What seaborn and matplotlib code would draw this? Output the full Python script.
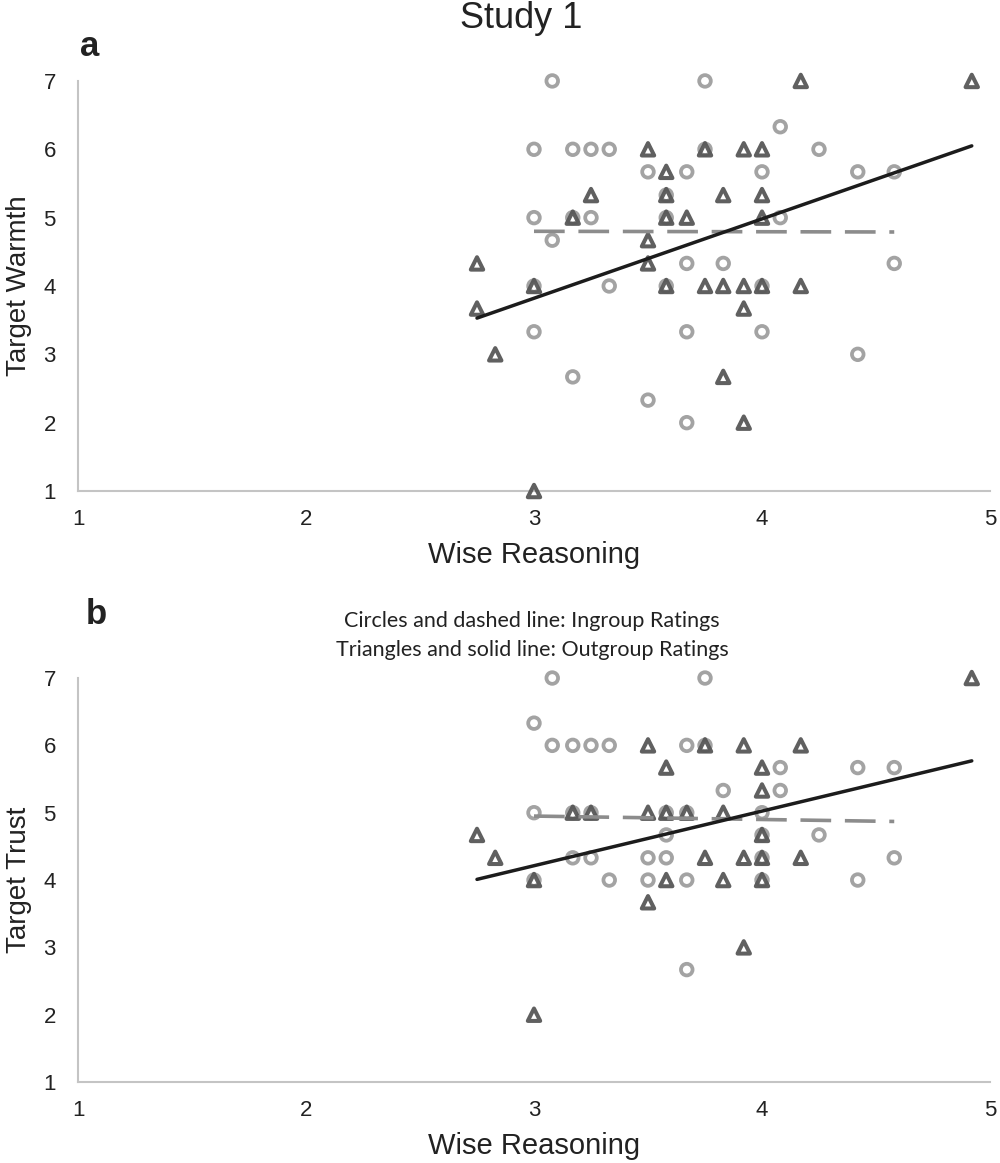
"""
Study 1: wise reasoning vs. target warmth / trust, ingroup vs. outgroup ratings.
"""
import numpy as np
import pandas as pd
import matplotlib
matplotlib.use("Agg")
import matplotlib.pyplot as plt
import seaborn as sns

sns.set_theme(style="white")
plt.rcParams['font.family'] = ['Liberation Sans', 'DejaVu Sans']

# ---- data ----
# panel a: target warmth
warm_in_x = [3.08, 3.75, 3.0, 3.17, 3.25, 3.33, 3.75, 4.25, 4.08, 3.5, 3.67, 4.0, 4.42, 4.58,
             3.58, 3.0, 3.17, 3.25, 3.58, 4.08, 3.08, 3.67, 3.83, 4.58, 3.0, 3.33, 3.58, 4.0,
             3.0, 3.67, 4.0, 4.42, 3.17, 3.5, 3.67]
warm_in_y = [7, 7, 6, 6, 6, 6, 6, 6, 6.33, 5.67, 5.67, 5.67, 5.67, 5.67,
             5.33, 5, 5, 5, 5, 5, 4.67, 4.33, 4.33, 4.33, 4, 4, 4, 4,
             3.33, 3.33, 3.33, 3, 2.67, 2.33, 2]
warm_out_x = [4.17, 4.92, 3.5, 3.75, 3.92, 4.0, 3.58, 3.25, 3.58, 3.83, 4.0, 3.17, 3.58, 3.67,
              4.0, 3.5, 2.75, 3.5, 3.0, 3.58, 3.75, 3.83, 3.92, 4.0, 4.17, 2.75, 3.92, 2.83,
              3.83, 3.92, 3.0]
warm_out_y = [7, 7, 6, 6, 6, 6, 5.67, 5.33, 5.33, 5.33, 5.33, 5, 5, 5,
              5, 4.67, 4.33, 4.33, 4, 4, 4, 4, 4, 4, 4, 3.67, 3.67, 3,
              2.67, 2, 1]

# panel b: target trust
trust_in_x = [3.08, 3.75, 3.0, 3.08, 3.17, 3.25, 3.33, 3.67, 3.75, 4.08, 4.42, 4.58, 3.83, 4.08,
              3.0, 3.17, 3.25, 3.58, 3.67, 4.0, 3.58, 4.0, 4.25, 3.17, 3.25, 3.5, 3.58, 4.0,
              4.58, 3.0, 3.33, 3.5, 3.67, 4.0, 4.42, 3.67]
trust_in_y = [7, 7, 6.33, 6, 6, 6, 6, 6, 6, 5.67, 5.67, 5.67, 5.33, 5.33,
              5, 5, 5, 5, 5, 5, 4.67, 4.67, 4.67, 4.33, 4.33, 4.33, 4.33, 4.33,
              4.33, 4, 4, 4, 4, 4, 4, 2.67]
trust_out_x = [4.92, 3.5, 3.75, 3.92, 4.17, 3.58, 4.0, 4.0, 3.17, 3.25, 3.5, 3.58, 3.67, 3.83,
               2.75, 4.0, 2.83, 3.75, 3.92, 4.0, 4.17, 3.0, 3.58, 3.83, 4.0, 3.5, 3.92, 3.0]
trust_out_y = [7, 6, 6, 6, 6, 5.67, 5.67, 5.33, 5, 5, 5, 5, 5, 5,
               4.67, 4.67, 4.33, 4.33, 4.33, 4.33, 4.33, 4, 4, 4, 4, 3.67, 3, 2]

# fitted lines (end points as drawn)
fit_out_x = [2.75, 4.92]
fit_in_x = [3.0, 4.58]
warm_fit_out = [3.53, 6.05]
warm_fit_in = [4.80, 4.79]
trust_fit_out = [4.01, 5.77]
trust_fit_in = [4.95, 4.87]

x_ticks = [1, 2, 3, 4, 5]
y_ticks = [1, 2, 3, 4, 5, 6, 7]

IN_COL = '#a3a3a3'
OUT_COL = '#575757'
AX_COL = '#c4c4c4'
TXT = '#222222'


def draw_panel(ax, in_x, in_y, out_x, out_y, fit_out, fit_in, ylabel):
    d_in = pd.DataFrame({'x': in_x, 'y': in_y})
    d_out = pd.DataFrame({'x': out_x, 'y': out_y})
    sns.scatterplot(data=d_in, x='x', y='y', ax=ax, marker='o', s=70,
                    facecolor='none', edgecolor=IN_COL, linewidth=2.7,
                    clip_on=False, zorder=3)
    sns.scatterplot(data=d_out, x='x', y='y', ax=ax, marker='^', s=80,
                    facecolor='none', edgecolor=OUT_COL, linewidth=2.9,
                    clip_on=False, zorder=4, alpha=0.95)
    sns.lineplot(x=fit_in_x, y=fit_in, ax=ax, color='#8c8c8c', lw=2.6, zorder=5)
    ax.lines[-1].set_linestyle((0, (8.5, 3.8)))
    sns.lineplot(x=fit_out_x, y=fit_out, ax=ax, color='#1c1c1c', lw=2.5, zorder=6)

    ax.set_xlim(1, 5)
    ax.set_ylim(1, 7)
    ax.set_xticks(x_ticks)
    ax.set_yticks(y_ticks)
    ax.tick_params(axis='both', length=0, labelsize=16, colors=TXT)
    ax.tick_params(axis='x', pad=13)
    ax.tick_params(axis='y', pad=16)
    ax.set_xlabel('Wise Reasoning', fontsize=21, color=TXT, labelpad=8)
    ax.set_ylabel(ylabel, fontsize=20, color=TXT, labelpad=8)
    sns.despine(ax=ax)
    for sp in ['left', 'bottom']:
        ax.spines[sp].set_color(AX_COL)
        ax.spines[sp].set_linewidth(1.5)
    ax.grid(False)


fig = plt.figure(figsize=(10, 11.63), dpi=100)
ax_a = fig.add_axes([0.078, 0.5778, 0.912, 0.3526])
ax_b = fig.add_axes([0.078, 0.0696, 0.912, 0.3474])

draw_panel(ax_a, warm_in_x, warm_in_y, warm_out_x, warm_out_y,
           warm_fit_out, warm_fit_in, 'Target Warmth')
draw_panel(ax_b, trust_in_x, trust_in_y, trust_out_x, trust_out_y,
           trust_fit_out, trust_fit_in, 'Target Trust')

fig.text(0.521, 0.999, 'Study 1', fontsize=26, ha='center', va='top', color=TXT)
fig.text(0.080, 0.960, 'a', fontsize=25, fontweight='bold', ha='left', va='center', color=TXT)
fig.text(0.086, 0.472, 'b', fontsize=25, fontweight='bold', ha='left', va='center', color=TXT)
fig.text(0.532, 0.466, 'Circles and dashed line: Ingroup Ratings', fontsize=15.5,
         ha='center', va='center', family=['Lato', 'DejaVu Sans'], color=TXT)
fig.text(0.532, 0.441, 'Triangles and solid line: Outgroup Ratings', fontsize=15.5,
         ha='center', va='center', family=['Lato', 'DejaVu Sans'], color=TXT)

plt.savefig('out.png', dpi=100, facecolor='white')
plt.close()
